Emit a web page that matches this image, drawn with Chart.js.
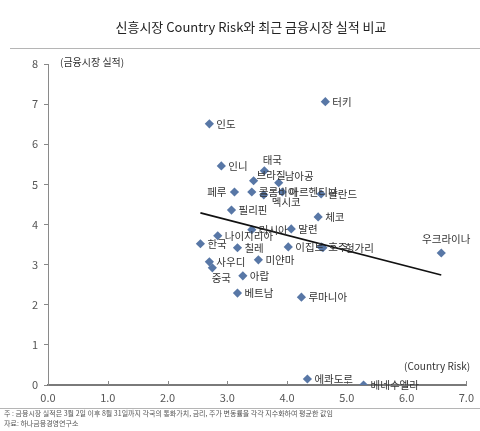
<!DOCTYPE html>
<html><head><meta charset="utf-8">
<script src="https://cdn.jsdelivr.net/npm/chart.js@4"></script>
<style>html,body{margin:0;padding:0;background:#fff}#wrap{width:480px;height:431px;position:relative}</style>
</head><body><div id="wrap"><canvas id="c" width="480" height="431"></canvas></div>
<script>
const countries = ["터키","인도","인니","태국","브라질","남아공","페루","콜롬비아","멕시코","아르헨티나","폴란드","필리핀","체코","러시아","말련","나이지리아","한국","칠레","이집트","호주","헝가리","사우디","미얀마","중국","아랍","베트남","루마니아","우크라이나","에콰도르","베네수엘라"];
const countryRisk = [4.64,2.70,2.90,3.62,3.44,3.86,3.12,3.41,3.61,3.92,4.57,3.07,4.52,3.41,4.07,2.84,2.55,3.17,4.02,4.57,4.60,2.70,3.52,2.75,3.26,3.17,4.24,6.58,4.34,5.28];
const marketPerf  = [7.06,6.51,5.46,5.34,5.09,5.04,4.81,4.81,4.74,4.81,4.76,4.36,4.19,3.87,3.89,3.72,3.52,3.42,3.44,3.44,3.42,3.07,3.12,2.92,2.72,2.29,2.19,3.29,0.15,0.00];
const trendX = [2.55, 6.58];
const trendY = [4.29, 2.74];
const xTicks = ["0.0","1.0","2.0","3.0","4.0","5.0","6.0","7.0"];
const yTicks = ["0","1","2","3","4","5","6","7","8"];

// label placement: [dx, dy, align]
const labelPos = {
  "태국":[8,-11,"center"], "브라질":[3,-6,"left"], "남아공":[6,-7,"left"], "페루":[-8,0,"right"],
  "멕시코":[8,7,"left"], "중국":[9,10,"center"], "우크라이나":[5,-14,"center"], "헝가리":[22,0,"left"],
  "호주":[7,0,"left"]
};

const FONT = "'Noto Sans CJK KR','Noto Sans',sans-serif";

const pts = countries.map((n,i)=>({x:countryRisk[i], y:marketPerf[i]}));
const trend = trendX.map((x,i)=>({x:x, y:trendY[i]}));

const deco = {
  id:'deco',
  afterDatasetsDraw(chart){
    const ctx = chart.ctx, xs = chart.scales.x, ys = chart.scales.y;
    ctx.save();
    ctx.strokeStyle = '#888'; ctx.lineWidth = 1;
    for (let v=1; v<=7; v++){
      const px = Math.round(xs.getPixelForValue(v))+0.5;
      ctx.beginPath(); ctx.moveTo(px, ys.bottom); ctx.lineTo(px, ys.bottom-4); ctx.stroke();
    }
    ctx.fillStyle = '#333';
    ctx.font = "10.5px " + FONT;
    ctx.textBaseline = 'middle';
    countries.forEach((n,i)=>{
      const px = xs.getPixelForValue(countryRisk[i]);
      const py = ys.getPixelForValue(marketPerf[i]);
      const p = labelPos[n] || [7,0,"left"];
      ctx.textAlign = p[2];
      ctx.fillText(n, px+p[0], py+p[1]);
    });
    ctx.restore();
  },
  afterDraw(chart){
    const ctx = chart.ctx;
    ctx.save();
    ctx.fillStyle = '#222';
    ctx.font = "13px " + FONT;
    ctx.textAlign = 'center'; ctx.textBaseline = 'middle';
    ctx.fillText("신흥시장 Country Risk와 최근 금융시장 실적 비교", 251, 27);
    ctx.strokeStyle = '#b5b5b5'; ctx.lineWidth = 1;
    ctx.beginPath(); ctx.moveTo(10, 48.5); ctx.lineTo(480, 48.5); ctx.stroke();
    ctx.beginPath(); ctx.moveTo(0, 408.5); ctx.lineTo(480, 408.5); ctx.stroke();
    ctx.fillStyle = '#333';
    ctx.font = "10px " + FONT;
    ctx.textAlign = 'left';
    ctx.fillText("(금융시장 실적)", 60, 62);
    ctx.fillText("(Country Risk)", 404, 366);
    ctx.fillStyle = '#555';
    ctx.font = "7px " + FONT;
    ctx.fillText("주 : 금융시장 실적은 3월 2일 이후 8월 31일까지 각국의 통화가치, 금리, 주가 변동률을 각각 지수화하여 평균한 값임", 4, 413);
    ctx.fillText("자료: 하나금융경영연구소", 4, 423);
    ctx.restore();
  }
};

new Chart(document.getElementById('c'), {
  type:'scatter',
  data:{ datasets:[
    { label:'countries', data:pts, pointStyle:'rectRot', pointRadius:4.6, pointHoverRadius:4.6,
      backgroundColor:'#5877a6', borderColor:'#5877a6', borderWidth:0, order:2 },
    { type:'line', label:'trend', data:trend, borderColor:'#111', borderWidth:1.6, pointRadius:0, fill:false, order:1 }
  ]},
  options:{
    responsive:false, animation:false, devicePixelRatio:1,
    layout:{ padding:{ top:64, left:0, right:13, bottom:0 } },
    plugins:{ legend:{display:false}, tooltip:{enabled:false}, title:{display:false} },
    scales:{
      x:{ type:'linear', min:0, max:7,
        afterFit(s){ s.height = 46; },
        afterBuildTicks(s){ s.ticks = xTicks.map((t,i)=>({value:i})); },
        ticks:{ stepSize:1, padding:6, color:'#555', font:{size:11, family:FONT},
          callback:(v,i)=>xTicks[i] },
        grid:{ drawOnChartArea:false, drawTicks:false },
        border:{ color:'#7a7a7a', width:2 }
      },
      y:{ type:'linear', min:0, max:8,
        afterFit(s){ s.width = 48; },
        afterBuildTicks(s){ s.ticks = yTicks.map((t,i)=>({value:i})); },
        ticks:{ stepSize:1, padding:6, color:'#555', font:{size:11, family:FONT},
          callback:(v,i)=>yTicks[i] },
        grid:{ drawOnChartArea:false, drawTicks:true, tickLength:4, color:'#888' },
        border:{ color:'#8a8a8a', width:1 }
      }
    }
  },
  plugins:[deco]
});
</script></body></html>
